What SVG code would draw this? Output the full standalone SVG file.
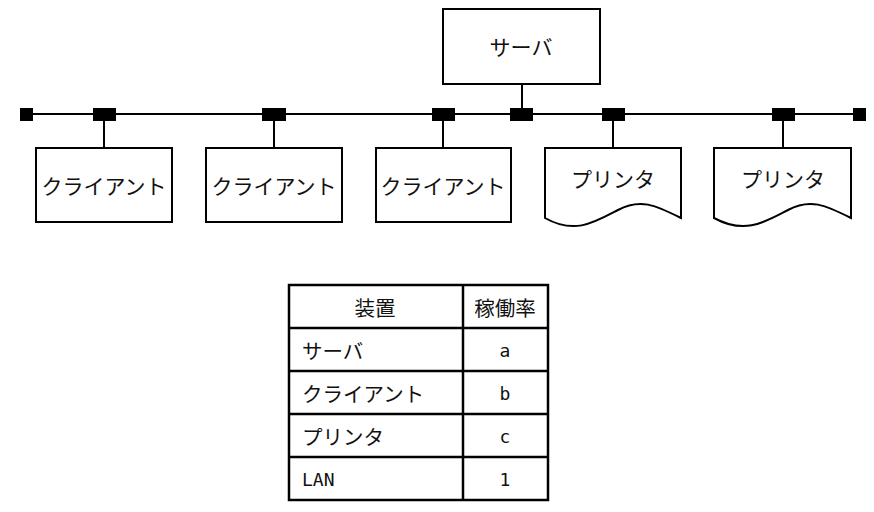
<svg xmlns="http://www.w3.org/2000/svg" width="874" height="512" viewBox="0 0 874 512">
<style>
.box{fill:#fff;stroke:#000;stroke-width:2}
.ln{stroke:#000;stroke-width:2;fill:none}
.tap{fill:#000}
.lbl{font-family:"Noto Sans CJK JP",sans-serif;font-size:21px;fill:#111;text-anchor:middle;dominant-baseline:central}
.tb{font-family:"Noto Sans CJK JP",sans-serif;font-size:20.5px;fill:#111;dominant-baseline:central}
.mono{font-family:"DejaVu Sans Mono","Liberation Mono",monospace;font-size:18px;fill:#111;dominant-baseline:central}
.grid{stroke:#000;stroke-width:2.5;fill:none}
</style>
<g id="connectors">
<line class="ln" x1="26" y1="114" x2="860" y2="114"/>
<line class="ln" x1="104" y1="114" x2="104" y2="148"/>
<line class="ln" x1="274" y1="114" x2="274" y2="148"/>
<line class="ln" x1="443" y1="114" x2="443" y2="148"/>
<line class="ln" x1="522" y1="84" x2="522" y2="114"/>
<line class="ln" x1="613" y1="114" x2="613" y2="148"/>
<line class="ln" x1="783" y1="114" x2="783" y2="148"/>
<rect class="tap" x="20" y="108" width="13" height="13"/>
<rect class="tap" x="853" y="108" width="13" height="13"/>
<rect class="tap" x="93" y="108" width="23" height="13"/>
<rect class="tap" x="262" y="108" width="24" height="13"/>
<rect class="tap" x="432" y="108" width="23" height="13"/>
<rect class="tap" x="510" y="108" width="23" height="13"/>
<rect class="tap" x="602" y="108" width="23" height="13"/>
<rect class="tap" x="772" y="108" width="23" height="13"/>
</g>
<g id="server">
<rect class="box" x="443" y="9" width="157" height="75"/>
<text class="lbl" x="521" y="46">サーバ</text>
</g>
<g id="client1">
<rect class="box" x="36" y="148" width="136" height="74"/>
<text class="lbl" x="104" y="185">クライアント</text>
</g>
<g id="client2">
<rect class="box" x="206" y="148" width="136" height="74"/>
<text class="lbl" x="274" y="185">クライアント</text>
</g>
<g id="client3">
<rect class="box" x="376" y="148" width="135" height="74"/>
<text class="lbl" x="443" y="185">クライアント</text>
</g>
<g id="printer1">
<path class="box" d="M545,148 H681 V218 C655,205 640,198 618,210 C595,222 575,235 545,218 Z"/>
<text class="lbl" x="613" y="178">プリンタ</text>
</g>
<g id="printer2">
<path class="box" d="M714,148 H851 V218 C825,205 810,198 788,210 C765,222 745,235 714,218 Z"/>
<text class="lbl" x="783" y="178">プリンタ</text>
</g>
<g id="table">
<rect x="288" y="285" width="260" height="215" fill="#fff"/>
<rect class="grid" x="289" y="285" width="259" height="215"/>
<line class="grid" x1="463" y1="285" x2="463" y2="500"/>
<line class="grid" x1="289" y1="328" x2="548" y2="328"/>
<line class="grid" x1="289" y1="371" x2="548" y2="371"/>
<line class="grid" x1="289" y1="414" x2="548" y2="414"/>
<line class="grid" x1="289" y1="457" x2="548" y2="457"/>
<text class="tb" x="375" y="307" text-anchor="middle">装置</text>
<text class="tb" x="505" y="307" text-anchor="middle">稼働率</text>
<text class="tb" x="302" y="350">サーバ</text>
<text class="tb" x="302" y="393">クライアント</text>
<text class="tb" x="302" y="436">プリンタ</text>
<text class="mono" x="302" y="479">LAN</text>
<text class="mono" x="505" y="350" text-anchor="middle">a</text>
<text class="mono" x="505" y="393" text-anchor="middle">b</text>
<text class="mono" x="505" y="436" text-anchor="middle">c</text>
<text class="mono" x="505" y="479" text-anchor="middle">1</text>
</g>
</svg>
